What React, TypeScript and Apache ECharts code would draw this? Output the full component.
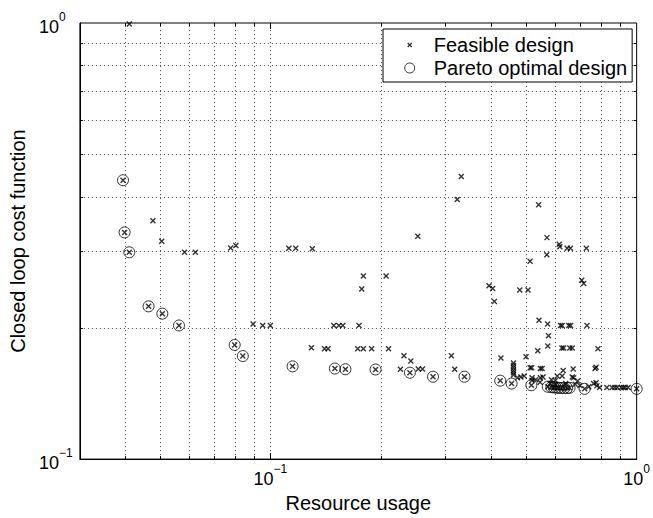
import React, { useEffect, useRef } from 'react';
import * as echarts from 'echarts';

const X_MIN = 0.0302;
const X_MAX = 1;
const Y_MIN = 0.1;
const Y_MAX = 1;

const xGridMinor = [0.04, 0.05, 0.06, 0.07, 0.08, 0.09, 0.2, 0.3, 0.4, 0.5, 0.6, 0.7, 0.8, 0.9];
const xGridMajor = [0.1];
const yGridMinor = [0.2, 0.3, 0.4, 0.5, 0.6, 0.7, 0.8, 0.9];

const seriesNames = ['Feasible design', 'Pareto optimal design'];
const xAxisTitle = 'Resource usage';
const yAxisTitle = 'Closed loop cost function';

// Feasible designs that are not Pareto optimal
const feasiblePoints: [number, number][] = [
  [0.0412, 0.995],
  [0.0478, 0.352],
  [0.0505, 0.316],
  [0.0583, 0.298],
  [0.0624, 0.298],
  [0.0779, 0.305],
  [0.0805, 0.309],
  [0.0897, 0.204],
  [0.0953, 0.2025],
  [0.1, 0.2025],
  [0.1123, 0.3046],
  [0.1173, 0.3046],
  [0.1302, 0.3036],
  [0.1294, 0.18],
  [0.1406, 0.179],
  [0.1437, 0.179],
  [0.149, 0.2025],
  [0.1538, 0.2025],
  [0.1577, 0.2025],
  [0.1746, 0.2025],
  [0.1732, 0.179],
  [0.1794, 0.179],
  [0.189, 0.179],
  [0.2102, 0.179],
  [0.1794, 0.263],
  [0.207, 0.263],
  [0.1776, 0.2454],
  [0.2316, 0.1726],
  [0.2418, 0.1679],
  [0.2265, 0.1607],
  [0.2534, 0.161],
  [0.2602, 0.161],
  [0.2527, 0.3243],
  [0.312, 0.1726],
  [0.3186, 0.1607],
  [0.332, 0.4446],
  [0.3237, 0.3937],
  [0.3953, 0.2497],
  [0.4045, 0.2462],
  [0.4088, 0.2297],
  [0.4797, 0.2442],
  [0.5052, 0.2442],
  [0.5117, 0.2842],
  [0.5685, 0.2943],
  [0.54, 0.383],
  [0.569, 0.322],
  [0.6146, 0.311],
  [0.617, 0.307],
  [0.646, 0.3046],
  [0.6595, 0.3046],
  [0.7288, 0.3046],
  [0.708, 0.257],
  [0.717, 0.2526],
  [0.4261, 0.1706],
  [0.5413, 0.2082],
  [0.5715, 0.2042],
  [0.5745, 0.1918],
  [0.572, 0.1818],
  [0.537, 0.1771],
  [0.4989, 0.1717],
  [0.6197, 0.2025], [0.626, 0.2025], [0.6526, 0.2025], [0.66, 0.2025],
  [0.7319, 0.2025],
  [0.625, 0.1797], [0.632, 0.1797], [0.657, 0.1797], [0.667, 0.1797],
  [0.784, 0.179],
  [0.77, 0.1613], [0.775, 0.1625],
  [0.775, 0.1497],
  [0.763, 0.149], [0.779, 0.1472], [0.792, 0.146],
  [0.829, 0.146], [0.857, 0.146], [0.872, 0.146], [0.886, 0.146],
  [0.907, 0.146], [0.92, 0.146], [0.931, 0.146], [0.948, 0.146],
  [0.461, 0.1662], [0.461, 0.1639], [0.461, 0.162], [0.461, 0.1597], [0.461, 0.1578], [0.461, 0.1559],
  [0.473, 0.1537], [0.483, 0.1543], [0.493, 0.155],
  [0.512, 0.162], [0.517, 0.162],
  [0.546, 0.1613], [0.552, 0.1613],
  [0.63, 0.1597], [0.671, 0.161],
  [0.607, 0.155], [0.626, 0.155], [0.667, 0.1543], [0.673, 0.1537],
  [0.546, 0.1537], [0.555, 0.1543],
  [0.518, 0.1537], [0.518, 0.1514],
  [0.53, 0.152], [0.545, 0.15], [0.58, 0.149], [0.6, 0.148], [0.64, 0.149],
  [0.68, 0.1485], [0.7, 0.1475], [0.74, 0.1465], [0.69, 0.151], [0.6, 0.1515], [0.585, 0.152],
];

// Pareto optimal designs (also feasible)
const paretoPoints: [number, number][] = [
  [0.0396, 0.436],
  [0.04, 0.331],
  [0.0412, 0.298],
  [0.0465, 0.224],
  [0.0507, 0.2155],
  [0.0563, 0.2025],
  [0.0799, 0.1827],
  [0.0841, 0.1723],
  [0.115, 0.1632],
  [0.15, 0.1613],
  [0.1603, 0.1607],
  [0.1937, 0.1605],
  [0.2404, 0.1578],
  [0.278, 0.1545],
  [0.3388, 0.1545],
  [0.4242, 0.1513],
  [0.4556, 0.149],
  [0.516, 0.1477],
  [0.572, 0.1465],
  [0.585, 0.1462],
  [0.594, 0.146],
  [0.603, 0.1458],
  [0.612, 0.1457],
  [0.622, 0.1456],
  [0.634, 0.1455],
  [0.646, 0.1455],
  [0.656, 0.1457],
  [0.721, 0.1449],
  [1.0, 0.1449],
];

const FONT = '"Liberation Sans", Arial, Helvetica, sans-serif';

function powerLabel(v: number): string {
  const e = Math.log10(v);
  const r = Math.round(e);
  if (Math.abs(e - r) > 1e-6) return '';
  return `{base|10}{sup|${r < 0 ? '\u2212' + -r : r}}`;
}

const labelRich = {
  base: { fontSize: 18, fontFamily: FONT, color: '#000', padding: [7, 0, 0, 0] },
  sup: { fontSize: 12, fontFamily: FONT, color: '#000', verticalAlign: 'top' },
};

const guideData = [
  ...xGridMinor.map((v) => [v, Y_MIN, 0, 0]),
  ...xGridMajor.map((v) => [v, Y_MIN, 0, 1]),
  ...yGridMinor.map((v) => [X_MIN, v, 1, 0]),
];

export default function App() {
  const ref = useRef<HTMLDivElement>(null);

  useEffect(() => {
    if (!ref.current) return;
    const chart = echarts.init(ref.current, undefined, { renderer: 'svg' });
    const dot = { stroke: '#444', lineWidth: 1, lineDash: [1, 3] };
    const tick = { stroke: '#000', lineWidth: 1 };

    chart.setOption({
      animation: false,
      backgroundColor: '#fff',
      grid: {
        left: 76,
        top: 23,
        width: 561,
        height: 443,
        show: true,
        borderColor: '#000',
        borderWidth: 1,
        backgroundColor: 'transparent',
      },
      legend: {
        orient: 'vertical',
        left: 383,
        top: 29,
        padding: [5, 5, 3, 21],
        itemGap: 1,
        itemWidth: 10,
        itemHeight: 10,
        backgroundColor: '#fff',
        borderColor: '#000',
        borderWidth: 1,
        borderRadius: 0,
        selectedMode: false,
        textStyle: { fontSize: 20, fontFamily: FONT, color: '#000', lineHeight: 22, padding: [0, 0, 0, 14] },
        data: [
          {
            name: seriesNames[0],
            icon: 'path://M0,0M10,10M3,3L7,7M7,3L3,7',
            itemStyle: { color: 'transparent', borderColor: '#000', borderWidth: 1.4 },
          },
          {
            name: seriesNames[1],
            icon: 'circle',
            itemStyle: { color: 'transparent', borderColor: '#000', borderWidth: 1 },
          },
        ],
      },
      xAxis: {
        type: 'log',
        logBase: 10,
        min: X_MIN,
        max: X_MAX,
        name: xAxisTitle,
        nameLocation: 'middle',
        nameGap: 31,
        nameTextStyle: { fontSize: 20, fontFamily: FONT, color: '#000' },
        axisLine: { show: true, lineStyle: { color: '#000', width: 1 } },
        axisTick: { show: false },
        splitLine: { show: false },
        axisLabel: { formatter: powerLabel, margin: 4, rich: labelRich },
      },
      yAxis: {
        type: 'log',
        logBase: 10,
        min: Y_MIN,
        max: Y_MAX,
        name: yAxisTitle,
        nameLocation: 'middle',
        nameGap: 47,
        nameTextStyle: { fontSize: 20, fontFamily: FONT, color: '#000' },
        axisLine: { show: true, lineStyle: { color: '#000', width: 1 } },
        axisTick: { show: false },
        splitLine: { show: false },
        axisLabel: { formatter: powerLabel, margin: 41, align: 'left', rich: labelRich },
      },
      series: [
        {
          type: 'custom',
          silent: true,
          z: 1,
          encode: { x: 0, y: 1 },
          data: guideData,
          renderItem: (params: any, api: any) => {
            const kind = api.value(2);
            const major = api.value(3);
            const len = major ? 6 : 3;
            if (kind === 0) {
              const v = api.value(0);
              const b = api.coord([v, Y_MIN]);
              const t = api.coord([v, Y_MAX]);
              const x = Math.round(b[0]) + 0.5;
              return {
                type: 'group',
                children: [
                  { type: 'line', shape: { x1: x, y1: b[1], x2: x, y2: t[1] }, style: dot },
                  { type: 'line', shape: { x1: x, y1: b[1], x2: x, y2: b[1] - len }, style: tick },
                  { type: 'line', shape: { x1: x, y1: t[1], x2: x, y2: t[1] + len }, style: tick },
                ],
              };
            }
            const v = api.value(1);
            const l = api.coord([X_MIN, v]);
            const r = api.coord([X_MAX, v]);
            const y = Math.round(l[1]) + 0.5;
            return {
              type: 'group',
              children: [
                { type: 'line', shape: { x1: l[0], y1: y, x2: r[0], y2: y }, style: dot },
                { type: 'line', shape: { x1: l[0], y1: y, x2: l[0] + len, y2: y }, style: tick },
                { type: 'line', shape: { x1: r[0], y1: y, x2: r[0] - len, y2: y }, style: tick },
              ],
            };
          },
        },
        {
          name: seriesNames[0],
          type: 'scatter',
          data: [...feasiblePoints, ...paretoPoints],
          symbol: 'path://M0,0L10,10M10,0L0,10',
          symbolSize: 5,
          itemStyle: { color: 'transparent', borderColor: '#000', borderWidth: 1.4 },
          clip: false,
          silent: true,
          z: 3,
        },
        {
          name: seriesNames[1],
          type: 'scatter',
          data: paretoPoints,
          symbol: 'circle',
          symbolSize: 11,
          itemStyle: { color: 'transparent', borderColor: '#000', borderWidth: 1 },
          clip: false,
          silent: true,
          z: 4,
        },
      ],
    });

    return () => chart.dispose();
  }, []);

  return (
    <div
      ref={ref}
      style={{ position: 'absolute', left: 0, top: 0, width: 653, height: 518, background: '#fff' }}
    />
  );
}
